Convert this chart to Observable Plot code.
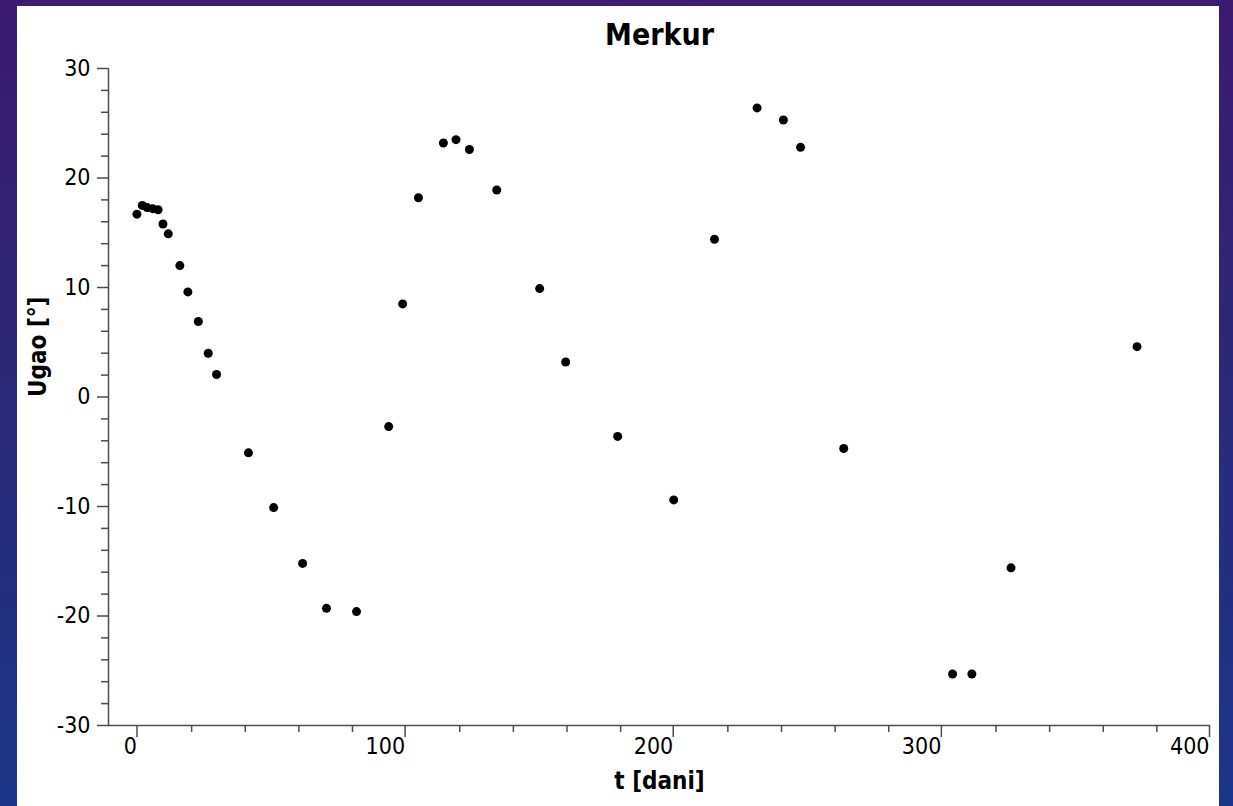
<!DOCTYPE html>
<html>
<head>
<meta charset="utf-8">
<script src="https://cdn.jsdelivr.net/npm/d3@7"></script>
<script src="https://cdn.jsdelivr.net/npm/@observablehq/plot@0.6"></script>
<style>
  html, body { margin: 0; padding: 0; }
  body {
    width: 1233px; height: 806px; overflow: hidden; position: relative;
    background: linear-gradient(to bottom, #3b1a70 0%, #2c2878 45%, #1a3688 100%);
  }
  #panel { position: absolute; left: 17px; top: 6px; width: 1202px; height: 800px; background: #fff; }
</style>
</head>
<body>
<div id="panel"></div>
<script>
// Data
const days   = [-0.4, 1.6, 3.4, 5.5, 7.5, 9.3, 11.3, 15.6, 18.6, 22.5, 26.2, 29.3,
                41.2, 50.6, 61.4, 70.3, 81.5, 93.5, 98.7, 104.6, 113.9, 118.6, 123.6, 133.8,
                149.8, 159.5, 178.9, 199.8, 215.0, 230.9, 240.7, 247.1, 263.2, 303.8, 311.0, 325.6, 372.6];
const angles = [16.7, 17.5, 17.3, 17.2, 17.1, 15.8, 14.9, 12.0, 9.6, 6.9, 4.0, 2.05,
                -5.1, -10.1, -15.2, -19.3, -19.6, -2.7, 8.5, 18.2, 23.2, 23.5, 22.6, 18.9,
                9.9, 3.2, -3.6, -9.4, 14.4, 26.4, 25.3, 22.8, -4.7, -25.3, -25.3, -15.6, 4.6];
const xMajor = [0, 100, 200, 300, 400];
const xMinor = d3.range(0, 401, 20).filter(d => d % 100 !== 0);
const yMajor = [-30, -20, -10, 0, 10, 20, 30];
const yMinor = d3.range(-30, 31, 2).filter(d => d % 10 !== 0);
const title = "Merkur";
const xLabel = "t [dani]";
const yLabel = "Ugao [°]";

const points = days.map((t, i) => ({t, a: angles[i]}));
const axisColor = "#4d4d4d";
const font = "'DejaVu Sans Condensed', 'DejaVu Sans', sans-serif";

const chart = Plot.plot({
  width: 1202,
  height: 800,
  marginLeft: 91,
  marginRight: 9,
  marginTop: 62,
  marginBottom: 81,
  x: {domain: [-11, 400]},
  y: {domain: [-30, 30]},
  style: {background: "white", fontFamily: font, fontStretch: "condensed", color: "black", overflow: "visible"},
  marks: [
    Plot.axisX(xMinor, {tickSize: 7, fill: "none", stroke: axisColor, strokeWidth: 1.5, label: null}),
    Plot.axisX(xMajor, {tickSize: 12, tickPadding: 0, textAnchor: "end", dx: -1, fontSize: 23,
      fill: "black", stroke: axisColor, strokeWidth: 1.5, label: null, tickFormat: d => String(d)}),
    Plot.axisY(yMinor, {tickSize: 7, fill: "none", stroke: axisColor, strokeWidth: 1.5, label: null}),
    Plot.axisY(yMajor, {tickSize: 11, tickPadding: 7, fontSize: 23,
      fill: "black", stroke: axisColor, strokeWidth: 1.5, label: null, tickFormat: d => String(d)}),
    Plot.ruleX([-11], {stroke: axisColor, strokeWidth: 1.5}),
    Plot.ruleY([-30], {stroke: axisColor, strokeWidth: 1.5}),
    Plot.dot(points, {x: "t", y: "a", r: 4.5, fill: "black", stroke: "none"}),
    Plot.text([title], {text: d => d, frameAnchor: "top", lineAnchor: "middle", dy: -33, fontSize: 30, fontWeight: "bold", fill: "black"}),
    Plot.text([xLabel], {text: d => d, frameAnchor: "bottom", lineAnchor: "middle", dy: 56, fontSize: 24, fontWeight: "bold", fill: "black"}),
    Plot.text([yLabel], {text: d => d, frameAnchor: "left", lineAnchor: "middle", dx: -70, rotate: -90, fontSize: 24, fontWeight: "bold", fill: "black"})
  ]
});
document.getElementById("panel").appendChild(chart);
</script>
</body>
</html>
